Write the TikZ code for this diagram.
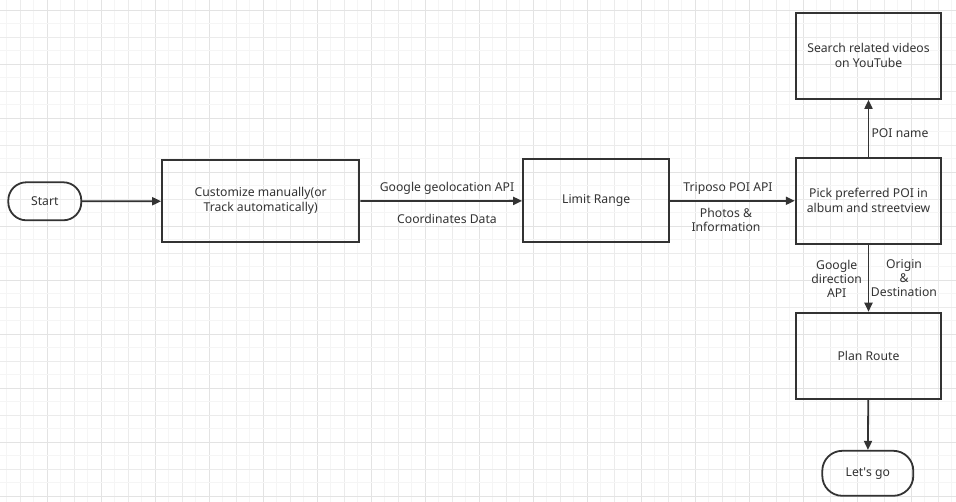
\documentclass[tikz,border=0pt]{standalone}
\usepackage{fontspec}
\setmainfont{Noto Sans}
\usetikzlibrary{arrows.meta}
\definecolor{linec}{HTML}{333333}
\definecolor{gdark}{HTML}{E3E3E3}
\definecolor{gmed}{HTML}{EBEBEB}
\definecolor{gfaint}{HTML}{F5F5F5}
\tikzset{
  box/.style={draw=linec, line width=1.8pt, inner sep=0pt, align=center, text=linec, font=\fontsize{12.2}{15}\selectfont},
  term/.style={box, rounded corners=18pt},
  conn/.style={draw=linec, line width=1.8pt, -{Triangle[length=9pt,width=8pt]}},
  lbl/.style={text=linec, align=center, inner sep=0pt, font=\fontsize{12.2}{14}\selectfont},
  gl/.style={line width=1pt}
}
\begin{document}
\begin{tikzpicture}[x=1pt,y=-1pt]
\useasboundingbox (0,0) rectangle (956,502);
\fill[white] (0,0) rectangle (956,502);
% grid
\foreach \k in {0,...,71} {
  \pgfmathsetmacro\xx{6.8+13.5*\k}
  \pgfmathtruncatemacro\m{mod(\k,4)}
  \ifnum\m=3 \draw[gl, gdark] (\xx,0) -- (\xx,502);
  \else\ifnum\m=1 \draw[gl, gmed] (\xx,0) -- (\xx,502);
  \else \draw[gl, gfaint] (\xx,0) -- (\xx,502); \fi\fi
}
\foreach \k in {0,...,37} {
  \pgfmathsetmacro\yy{10.3+13.5*\k}
  \pgfmathtruncatemacro\m{mod(\k,4)}
  \ifnum\m=0 \draw[gl, gdark] (0,\yy) -- (956,\yy);
  \else\ifnum\m=2 \draw[gl, gmed] (0,\yy) -- (956,\yy);
  \else \draw[gl, gfaint] (0,\yy) -- (956,\yy); \fi\fi
}
% nodes
\node[term, minimum width=73pt, minimum height=38pt] (start) at (44.8,201.3) {Start};
\node[box, minimum width=197.3pt, minimum height=82.3pt] (cust) at (260.7,201.2) {Customize manually(or\\Track automatically)};
\node[box, minimum width=146.3pt, minimum height=83pt] (limit) at (596.2,200.8) {Limit Range};
\node[box, minimum width=145.6pt, minimum height=86.3pt] (pick) at (868.5,200.8) {Pick preferred POI in\\album and streetview};
\node[box, minimum width=145.6pt, minimum height=86.3pt] (search) at (868.5,55.8) {Search related videos\\on YouTube};
\node[box, minimum width=145.6pt, minimum height=86.3pt] (plan) at (868.5,355.8) {Plan Route};
\node[term, minimum width=91pt, minimum height=45pt, rounded corners=20pt] (go) at (867.8,473.3) {Let\textquotesingle s go};
% connectors
\draw[conn] (start) -- (cust);
\draw[conn] (cust) -- (limit);
\draw[conn] (limit) -- (pick);
\draw[conn] (pick) -- (search);
\draw[conn] (pick) -- (plan);
\draw[conn] (plan) -- (go);
% labels
\node[lbl] (l1) at (447,188) {Google geolocation API};
\node[lbl] (l2) at (447,219) {Coordinates Data};
\node[lbl] (l3) at (728,188) {Triposo POI API};
\node[lbl] (l4) at (726,220) {Photos \&\\Information};
\node[lbl] (l5) at (900,133) {POI name};
\node[lbl] (l6) at (836.7,279) {Google\\direction\\API};
\node[lbl] (l7) at (904,278) {Origin\\\&\\Destination};
\end{tikzpicture}
\end{document}
